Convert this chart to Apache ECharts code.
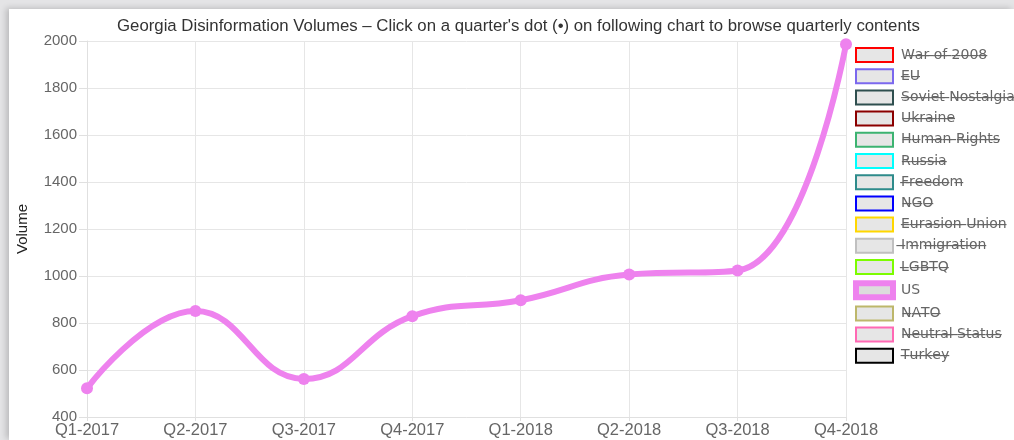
<!DOCTYPE html>
<html><head><meta charset="utf-8">
<script src="https://cdn.jsdelivr.net/npm/echarts@6/dist/echarts.min.js"></script>
<style>
html,body{margin:0;padding:0;background:#e4e4e6;width:1014px;height:440px;overflow:hidden;}
#card{position:absolute;left:9px;top:9px;width:1005px;height:431px;background:#fff;box-shadow:-3px -1px 6px rgba(0,0,0,0.18);}
#chart{position:absolute;left:0;top:0;width:1014px;height:440px;}
</style></head>
<body><div id="card"></div><div id="chart"></div>
<script>
const categories = ['Q1-2017','Q2-2017','Q3-2017','Q4-2017','Q1-2018','Q2-2018','Q3-2018','Q4-2018'];
const usValues = [522, 851, 562, 829, 897, 1006, 1023, 1986];
const seriesNames = ['War of 2008','EU','Soviet Nostalgia','Ukraine','Human Rights','Russia','Freedom','NGO','Eurasion Union','Immigration','LGBTQ','US','NATO','Neutral Status','Turkey'];
const seriesColors = ['#ff0000','#7b68ee','#2f4f4f','#8b0000','#3cb371','#00ffff','#2e8b8b','#0000ff','#ffd700','#c0c0c0','#7cfc00','#ee82ee','#bdb76b','#ff69b4','#000000'];
const yTicks = {min: 400, max: 2000, interval: 200};

const FONT = '"Liberation Sans", Arial, sans-serif';
const LFONT = '"DejaVu Sans", sans-serif';
function strike(s){ return s.split('').map(c => c + '\u0336').join(''); }

const chart = echarts.init(document.getElementById('chart'), null, {renderer:'canvas'});
const series = seriesNames.map((n,i) => ({
  name: n,
  type: 'line',
  smooth: 0.45,
  data: n === 'US' ? usValues : [],
  symbol: 'circle',
  symbolSize: 12,
  lineStyle: {width: 6, color: seriesColors[i]},
  itemStyle: {color: seriesColors[i]},
  z: 5
}));
const legendData = seriesNames.map((n,i) => n === 'US' ? {
  name: n,
  itemStyle: {color: '#dcdcdc', borderColor: seriesColors[i], borderWidth: 6}
} : {
  name: n,
  itemStyle: {color: '#e6e6e6', borderColor: seriesColors[i], borderWidth: 2}
});
chart.setOption({
  animation: false,
  backgroundColor: 'transparent',
  title: {
    text: "Georgia Disinformation Volumes – Click on a quarter's dot (•) on following chart to browse quarterly contents",
    left: 112, top: 13,
    textStyle: {fontFamily: FONT, fontSize: 16.8, fontWeight: 'normal', color: '#333'}
  },
  legend: {
    orient: 'vertical',
    left: 848, top: 42,
    itemWidth: 37, itemHeight: 14, itemGap: 5.2,
    icon: 'rect',
    data: legendData,
    formatter: n => n === 'US' ? n : strike(n),
    textStyle: {fontFamily: LFONT, fontSize: 14, color: '#666', padding: [0, 0, 0, 3]},
    selectedMode: false
  },
  grid: {left: 87, right: 168, top: 41, bottom: 23, containLabel: false},
  xAxis: {
    type: 'category',
    data: categories,
    boundaryGap: false,
    axisLine: {show: true, lineStyle: {color: '#e0e0e0'}},
    axisTick: {show: true, length: 4, lineStyle: {color: '#e0e0e0'}},
    axisLabel: {fontFamily: FONT, fontSize: 16.5, color: '#666', margin: 5},
    splitLine: {show: true, lineStyle: {color: '#e6e6e6'}}
  },
  yAxis: {
    type: 'value',
    min: yTicks.min, max: yTicks.max, interval: yTicks.interval,
    name: 'Volume',
    nameLocation: 'middle',
    nameGap: 57,
    nameTextStyle: {fontFamily: FONT, fontSize: 15, color: '#222'},
    axisLine: {show: true, lineStyle: {color: '#e0e0e0'}},
    axisTick: {show: true, length: 8, lineStyle: {color: '#e0e0e0'}},
    axisLabel: {fontFamily: FONT, fontSize: 15, color: '#666', margin: 10, formatter: v => String(v)},
    splitLine: {show: true, lineStyle: {color: '#e6e6e6'}}
  },
  series: series
});
</script></body></html>
